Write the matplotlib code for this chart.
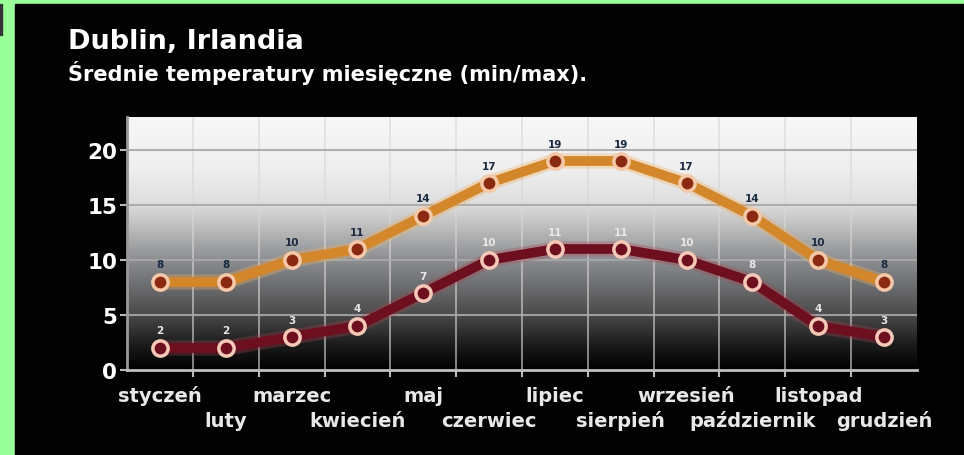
import matplotlib.pyplot as plt
import numpy as np
from matplotlib.colors import LinearSegmentedColormap

#===============================================================================
months = ["styczeń", "luty", "marzec", "kwiecień", "maj", "czerwiec",
          "lipiec", "sierpień", "wrzesień", "październik", "listopad", "grudzień"]
t_max = [8, 8, 10, 11, 14, 17, 19, 19, 17, 14, 10, 8]
t_min = [2, 2, 3, 4, 7, 10, 11, 11, 10, 8, 4, 3]
y_ticks = [0, 5, 10, 15, 20]

#===============================================================================
fig = plt.figure(figsize=(9.64, 4.56), dpi=100)
fig.patch.set_facecolor("#99ff99")

# black panel inside the green frame
fig.add_artist(plt.Rectangle((15 / 964, 0), 1, 1 - 5 / 456,
                             transform=fig.transFigure, color="#020202", zorder=0))
fig.add_artist(plt.Rectangle((0, 1 - 36 / 456), 2 / 964, 31 / 456,
                             transform=fig.transFigure, color="#333333", zorder=0))

ax = fig.add_axes([127 / 964, 1 - 371 / 456, 790 / 964, 253 / 456])
ax.set_xlim(-0.5, 11.5)
ax.set_ylim(0, 23)

# background gradient
cmap = LinearSegmentedColormap.from_list("bg", [
    (0.00, "#000000"), (0.10, "#1c1c1c"), (0.22, "#4a4a4a"),
    (0.43, "#8a8c90"), (0.55, "#b8b8b8"), (0.66, "#dedede"),
    (0.80, "#efefef"), (1.00, "#f7f7f7")])
grad = np.linspace(0, 1, 256).reshape(-1, 1)
ax.imshow(grad, extent=[-0.5, 11.5, 0, 23], origin="lower", aspect="auto",
          cmap=cmap, zorder=0)

x = np.arange(len(months))

# grid
for xv in np.arange(0.5, 11.5, 1.0):
    ax.axvline(xv, color="#d8d8d8", lw=1.2, alpha=0.7, zorder=1)
for yv in y_ticks[1:]:
    ax.axhline(yv, color="#a8a8a8", lw=1.5, alpha=0.9, zorder=1)

# lines
ax.plot(x, t_max, color="#f0b060", lw=11, alpha=0.35, zorder=2, solid_capstyle="round")
ax.plot(x, t_max, color="#d4862a", lw=7, zorder=3, solid_capstyle="round")
ax.plot(x, t_min, color="#b04050", lw=11, alpha=0.3, zorder=2, solid_capstyle="round")
ax.plot(x, t_min, color="#6e0f20", lw=7, zorder=3, solid_capstyle="round")

ax.plot(x, t_max, ls="none", marker="o", ms=11, mfc="#8a2a10", mec="#f6c8a8",
        mew=2.5, zorder=4)
ax.plot(x, t_min, ls="none", marker="o", ms=11, mfc="#6e0f20", mec="#f6c8b8",
        mew=2.5, zorder=4)

for xi, v in zip(x, t_max):
    ax.annotate(str(v), (xi, v), xytext=(0, 9), textcoords="offset points",
                ha="center", va="bottom", fontsize=7.5, fontweight="bold",
                color="#1a2a40", zorder=5)
for xi, v in zip(x, t_min):
    ax.annotate(str(v), (xi, v), xytext=(0, 9), textcoords="offset points",
                ha="center", va="bottom", fontsize=7.5, fontweight="bold",
                color="#e8e8e8", zorder=5)

# axes styling
for s in ["top", "right"]:
    ax.spines[s].set_visible(False)
ax.spines["left"].set_color("#9a9a9a")
ax.spines["left"].set_linewidth(2)
ax.spines["bottom"].set_color("#c0c0c0")
ax.spines["bottom"].set_linewidth(2)

ax.set_yticks(y_ticks)
ax.set_yticklabels([str(v) for v in y_ticks], fontsize=15.5, fontweight="bold",
                   color="white")
ax.tick_params(axis="y", colors="#bbbbbb", length=5, width=1.5, pad=2,
               labelcolor="white")

ax.set_xticks(np.arange(0.5, 11.5, 1.0))
ax.set_xticklabels([])
ax.tick_params(axis="x", colors="#bbbbbb", length=5, width=1.5)

for i, m in enumerate(months):
    yoff = -0.099 if i % 2 == 0 else -0.198
    ax.text(i, yoff, m, transform=ax.get_xaxis_transform(), ha="center",
            va="center", fontsize=14, fontweight="bold", color="#e8e8e8",
            family="DejaVu Sans")

fig.text(68 / 964, 1 - 42 / 456, "Dublin, Irlandia", fontsize=19.5,
         fontweight="bold", color="white", va="center", ha="left")
fig.text(68 / 964, 1 - 73 / 456, "Średnie temperatury miesięczne (min/max).",
         fontsize=15, fontweight="bold", color="white", va="center", ha="left")

fig.savefig("out.png", dpi=100, facecolor=fig.get_facecolor())
